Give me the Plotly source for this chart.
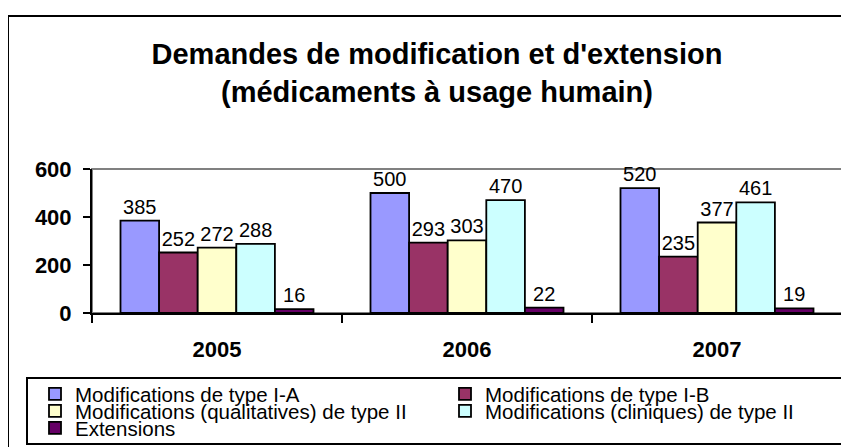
import plotly.graph_objects as go

years = ["2005", "2006", "2007"]
series_names = [
    "Modifications de type I-A",
    "Modifications de type I-B",
    "Modifications (qualitatives) de type II",
    "Modifications (cliniques) de type II",
    "Extensions",
]
type_ia = [385, 500, 520]
type_ib = [252, 293, 235]
type_ii_qual = [272, 303, 377]
type_ii_clin = [288, 470, 461]
extensions = [16, 22, 19]
colors = ["#9999FF", "#993366", "#FFFFCC", "#CCFFFF", "#660066"]

font_family = "Liberation Sans, Arial, sans-serif"

# the page body adds an 8px margin, so positions below are in screen px
# and the figure margins are shifted back by that amount
OFF = 8
PLOT_L, PLOT_R, PLOT_T, PLOT_B = 92, 842, 169, 313
W, H = 849, 447

def px_x(px):
    return (px - PLOT_L) / (PLOT_R - PLOT_L)

def px_y(py):
    return (PLOT_B - py) / (PLOT_B - PLOT_T)

# legend slot for each series: (legend id, left px, row centre px)
legend_ids = ["legend", "legend2", "legend3", "legend4", "legend5"]
legend_left = [35, 445, 35, 445, 35]
legend_row = [394, 394, 411, 411, 428]

fig = go.Figure()
for name, vals, col, lid in zip(series_names,
                                [type_ia, type_ib, type_ii_qual, type_ii_clin, extensions],
                                colors, legend_ids):
    fig.add_trace(go.Bar(
        x=years, y=vals, name=name, legend=lid,
        marker=dict(color=col, line=dict(color="black", width=1.8)),
        text=vals, textposition="outside", cliponaxis=False,
        constraintext="none",
        textfont=dict(family=font_family, size=20, color="black"),
    ))

legends = {}
for lid, lx, ly in zip(legend_ids, legend_left, legend_row):
    legends[lid] = dict(
        orientation="h",
        x=px_x(lx), xanchor="left",
        y=px_y(ly), yanchor="middle",
        bgcolor="rgba(0,0,0,0)", borderwidth=0,
        font=dict(family=font_family, size=20.5, color="black"),
    )

fig.update_layout(
    width=W, height=H,
    margin=dict(l=PLOT_L - OFF, r=W - (PLOT_R - OFF), t=PLOT_T - OFF,
                b=H - (PLOT_B - OFF), autoexpand=False),
    paper_bgcolor="white", plot_bgcolor="white",
    font=dict(family=font_family, color="black"),
    barmode="group", bargap=0.228, bargroupgap=0,
    title=dict(
        text="Demandes de modification et d'extension<br>(médicaments à usage humain)",
        font=dict(family=font_family, size=29, color="black", weight="bold"),
        x=(437 - OFF) / W, xref="container", xanchor="center",
        y=1 - 56 / H, yref="container", yanchor="top",
    ),
    showlegend=True,
    shapes=[
        # gray plot-area frame
        dict(type="rect", xref="paper", yref="paper", x0=0, x1=1, y0=0, y1=1,
             line=dict(color="#808080", width=2), layer="below"),
        # outer chart border
        dict(type="rect", xref="paper", yref="paper",
             x0=px_x(8), x1=px_x(860), y0=px_y(460), y1=px_y(16),
             line=dict(color="black", width=2), layer="below"),
        # legend box
        dict(type="rect", xref="paper", yref="paper",
             x0=px_x(27), x1=px_x(852), y0=px_y(444), y1=px_y(378),
             line=dict(color="black", width=2), layer="below"),
    ],
    **legends,
)

fig.update_xaxes(
    type="category", tickson="boundaries",
    ticks="outside", ticklen=8, tickwidth=2, tickcolor="black",
    showline=True, linecolor="black", linewidth=2,
    showgrid=False, ticklabelstandoff=16,
    tickfont=dict(family=font_family, size=22, color="black", weight="bold"),
)
fig.update_yaxes(
    range=[0, 600], tickvals=[0, 200, 400, 600],
    ticks="outside", ticklen=7, tickwidth=2, tickcolor="black",
    showline=True, linecolor="black", linewidth=2,
    showgrid=False, zeroline=False, ticklabelstandoff=7,
    tickfont=dict(family=font_family, size=22, color="black", weight="bold"),
)

fig.write_html("out.html")
